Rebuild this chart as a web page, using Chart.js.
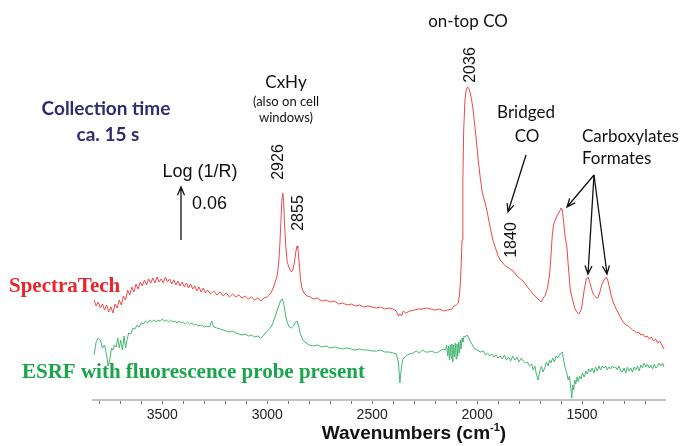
<!DOCTYPE html>
<html>
<head>
<meta charset="utf-8">
<script src="https://cdn.jsdelivr.net/npm/chart.js@4.4.1/dist/chart.umd.min.js"></script>
<style>
  html, body { margin: 0; padding: 0; background: #fff; }
</style>
</head>
<body>
<canvas id="spectra" width="681" height="446"></canvas>
<script>
// DRIFTS spectra - SpectraTech cell vs ESRF cell (offset, arbitrary units)

const redWn = [3825,3815,3805,3795,3785,3775,3765,3755,3745,3735,3725,3715,3705,3695,3685,3675,3665,3655,3645,3635,
  3625,3615,3605,3595,3585,3575,3565,3555,3545,3535,3525,3515,3505,3495,3485,3475,3465,3455,3445,3435,
  3425,3415,3405,3395,3385,3375,3365,3355,3345,3335,3325,3315,3305,3295,3285,3270,3255,3240,3225,3210,
  3195,3180,3165,3150,3135,3120,3105,3090,3075,3060,3045,3030,3015,3000,2990,2980,2970,2960,2952,2945,
  2940,2935,2930,2926,2922,2918,2912,2905,2895,2885,2878,2870,2864,2858,2854,2848,2842,2835,2825,2810,
  2795,2780,2760,2740,2720,2700,2680,2660,2640,2620,2600,2580,2560,2540,2520,2500,2480,2460,2440,2420,
  2400,2385,2375,2368,2360,2352,2340,2320,2300,2280,2260,2240,2220,2200,2180,2160,2140,2120,2110,2100,
  2090,2084,2080,2076,2072,2068,2064,2058,2052,2046,2040,2034,2026,2019,2010,2000,1995,1985,1975,1962,
  1952,1940,1925,1914,1900,1890,1870,1850,1829,1810,1781,1760,1745,1733,1720,1705,1695,1685,1675,1665,
  1655,1648,1642,1636,1628,1618,1608,1600,1594,1588,1580,1572,1565,1556,1545,1535,1525,1515,1505,1500,
  1490,1480,1472,1465,1455,1445,1435,1425,1415,1405,1395,1385,1378,1370,1362,1352,1340,1330,1320,1310,
  1300,1290,1280,1270,1260,1250,1240,1230,1220,1210,1200,1190,1180,1170,1160,1150,1140,1130,1120,1110];
const redVal = [100,94,98,92,96,90,95,88,93,87,96,92,100,95,104,100,110,105,113,108,
  116,111,118,114,120,115,121,117,122,117,123,118,121,117,123,118,121,116,120,115,
  119,114,118,113,117,112,116,111,114,109,113,108,112,107,110,106,109,105,108,104,
  107,103,106,103,105,102,104,101,103,100,102,99,102,103,105,108,113,119,125,138,
  155,178,200,207,200,178,155,138,132,128,130,138,148,154,152,138,122,112,107,104,
  103,101,102,99,100,98,99,96,97,95,96,94,95,93,94,93,92,93,91,92,
  91,89,84,86,84,89,87,89,90,91,91,92,91,90,91,89,90,91,94,95,
  97,105,117,135,160,220,270,300,310,313,312,308,300,290,272,252,240,222,207,197,
  188,175,160,153,144,140,135,132,129,124,119,113,109,106,103,100,98,102,105,112,
  125,145,165,175,180,185,188,192,190,178,162,152,132,110,100,92,88,86,90,95,
  110,121,123,119,111,105,103,102,108,116,120,123,120,113,105,98,92,88,84,80,
  77,75,74,72,70,69,67,68,65,66,63,64,61,63,59,61,57,59,55,51];

const greenWn = [3825,3815,3805,3795,3785,3775,3765,3758,3750,3742,3735,3728,3720,3712,3705,3698,3690,3682,3675,3668,
  3660,3650,3640,3630,3620,3610,3600,3590,3580,3570,3560,3550,3540,3530,3520,3510,3500,3490,3480,3470,
  3460,3450,3440,3430,3420,3410,3400,3390,3380,3370,3360,3350,3340,3330,3315,3300,3290,3275,3265,3255,
  3240,3225,3210,3195,3180,3165,3150,3135,3120,3105,3090,3075,3060,3045,3030,3015,3005,2995,2985,2975,
  2965,2955,2945,2935,2928,2920,2912,2905,2895,2885,2875,2865,2858,2850,2842,2830,2815,2800,2780,2760,
  2740,2720,2700,2680,2660,2640,2620,2600,2580,2560,2540,2520,2500,2480,2460,2440,2420,2400,2385,2375,
  2368,2362,2355,2345,2335,2320,2305,2290,2275,2260,2245,2230,2215,2200,2185,2170,2160,2150,2145,2140,
  2136,2132,2128,2124,2120,2116,2112,2108,2104,2100,2096,2092,2088,2084,2080,2076,2072,2068,2062,2055,
  2048,2042,2035,2025,2015,2000,1985,1970,1960,1950,1940,1930,1920,1910,1900,1890,1880,1870,1860,1850,
  1840,1830,1820,1810,1800,1790,1780,1770,1760,1750,1740,1733,1725,1718,1710,1702,1694,1686,1678,1670,
  1662,1655,1648,1640,1632,1624,1616,1608,1600,1594,1588,1580,1572,1566,1560,1554,1549,1545,1540,1535,
  1530,1524,1518,1512,1505,1498,1490,1482,1475,1468,1460,1452,1444,1436,1428,1420,1412,1404,1396,1388,
  1380,1372,1364,1356,1348,1340,1332,1324,1316,1308,1300,1292,1284,1276,1268,1260,1252,1244,1236,1228,
  1220,1212,1204,1196,1188,1180,1172,1164,1156,1148,1140,1132,1124,1116,1110];
const greenVal = [45,58,62,60,52,55,45,34,40,52,50,55,53,62,52,60,50,64,52,60,
  67,66,72,71,75,73,77,76,79,77,80,78,80,78,80,79,81,79,80,78,
  80,78,79,77,79,77,78,76,78,76,77,75,76,74,75,73,74,73,79,73,
  72,71,70,69,68,69,67,66,65,66,64,65,63,64,62,65,68,70,72,76,
  82,88,94,100,101,95,84,78,73,72,74,78,79,74,66,60,57,55,54,55,
  53,54,52,53,52,51,52,51,50,51,50,50,49,49,50,48,48,47,46,38,
  17,30,40,43,45,46,47,49,47,50,48,48,49,47,48,50,51,50,55,44,
  54,40,55,42,56,38,55,43,57,41,56,44,58,47,60,51,62,58,64,63,
  65,63,60,56,52,50,48,49,45,47,44,46,43,45,42,44,41,45,40,43,
  39,44,40,43,38,42,39,37,38,34,36,30,34,26,20,28,34,28,32,38,
  34,40,37,42,38,44,42,45,47,48,40,32,26,20,24,12,2,15,10,20,
  16,23,18,24,21,27,23,29,26,31,28,32,27,33,29,34,30,34,32,34,
  30,33,31,34,32,33,30,34,29,28,32,27,33,29,32,28,33,30,34,29,
  35,32,37,33,36,32,35,31,36,32,34,37,34,37,33];

const xTicksMajor = [3500, 3000, 2500, 2000, 1500];
const peakLabels = [2926, 2855, 2036, 1840];

const RED = '#f04848';
const GREEN = '#45b873';

function toPoints(xs, ys) {
  return xs.map((x, i) => ({ x: x, y: ys[i] }));
}

// draws a line with an open arrow head at (x2, y2)
function drawArrow(ctx, x1, y1, x2, y2) {
  const head = 9;
  const ang = Math.atan2(y2 - y1, x2 - x1);
  ctx.beginPath();
  ctx.moveTo(x1, y1);
  ctx.lineTo(x2, y2);
  ctx.moveTo(x2 - head * Math.cos(ang - 0.4), y2 - head * Math.sin(ang - 0.4));
  ctx.lineTo(x2, y2);
  ctx.lineTo(x2 - head * Math.cos(ang + 0.4), y2 - head * Math.sin(ang + 0.4));
  ctx.stroke();
}

function vText(ctx, text, x, y) {
  ctx.save();
  ctx.translate(x, y);
  ctx.rotate(-Math.PI / 2);
  ctx.fillText(text, 0, 0);
  ctx.restore();
}

const annotations = {
  id: 'annotations',
  afterDraw(chart) {
    const ctx = chart.ctx;
    const xs = chart.scales.x;
    ctx.save();
    ctx.textAlign = 'center';
    ctx.textBaseline = 'middle';

    // axis title with superscript
    ctx.fillStyle = '#111';
    const bigFont = 'bold 19px "Liberation Sans", Arial, sans-serif';
    const supFont = 'bold 11px "Liberation Sans", Arial, sans-serif';
    const main = 'Wavenumbers (cm';
    ctx.font = bigFont;
    const w1 = ctx.measureText(main).width;
    const w3 = ctx.measureText(')').width;
    ctx.font = supFont;
    const w2 = ctx.measureText('-1').width;
    const tx = 414 - (w1 + w2 + w3) / 2;
    ctx.textAlign = 'left';
    ctx.font = bigFont;
    ctx.fillText(main, tx, 434);
    ctx.font = supFont;
    ctx.fillText('-1', tx + w1, 428);
    ctx.font = bigFont;
    ctx.fillText(')', tx + w1 + w2, 434);
    ctx.textAlign = 'center';

    // collection time
    ctx.fillStyle = '#2e2c6e';
    ctx.font = 'bold 19px Lato, "Open Sans", sans-serif';
    ctx.fillText('Collection time', 106, 109);
    ctx.fillText('ca. 15 s', 108, 135);

    // scale bar
    ctx.fillStyle = '#111';
    ctx.strokeStyle = '#111';
    ctx.lineWidth = 1.3;
    ctx.font = '18px "Liberation Sans", Arial, sans-serif';
    ctx.fillText('Log (1/R)', 200, 172);
    ctx.textAlign = 'left';
    ctx.fillText('0.06', 192, 204);
    ctx.textAlign = 'center';
    drawArrow(ctx, 181, 240, 181, 187);

    // band assignments
    ctx.font = '17px Lato, "Open Sans", sans-serif';
    ctx.fillText('CxHy', 286, 83);
    ctx.fillText('on-top CO', 468, 22);
    ctx.fillText('Bridged', 526, 113);
    ctx.fillText('CO', 527, 137);
    ctx.textAlign = 'left';
    ctx.fillText('Carboxylates', 582, 137);
    ctx.fillText('Formates', 582, 159);
    ctx.textAlign = 'center';
    ctx.font = '13px Lato, "Open Sans", sans-serif';
    ctx.fillText('(also on cell', 286, 102);
    ctx.fillText('windows)', 286, 118);

    // peak positions
    ctx.font = '16px "Liberation Sans", Arial, sans-serif';
    const peakY = { 2926: 162, 2855: 213, 2036: 65, 1840: 240 };
    const peakDx = { 2926: -4, 2855: 1, 2036: 1, 1840: 1 };
    peakLabels.forEach(p => {
      vText(ctx, String(p), xs.getPixelForValue(p) + peakDx[p], peakY[p]);
    });

    drawArrow(ctx, 526, 155, 508, 212);
    drawArrow(ctx, 594, 175, 567, 207);
    drawArrow(ctx, 594, 175, 588, 274);
    drawArrow(ctx, 594, 175, 607, 274);

    // series labels
    ctx.textAlign = 'left';
    ctx.font = 'bold 21px "Liberation Serif", "Times New Roman", serif';
    ctx.fillStyle = '#e8262b';
    ctx.fillText('SpectraTech', 9, 287);
    ctx.fillStyle = '#1aa54b';
    ctx.fillText('ESRF with fluorescence probe present', 22, 373);
    ctx.restore();
  }
};

const chart = new Chart(document.getElementById('spectra'), {
  type: 'line',
  data: {
    datasets: [
      {
        label: 'SpectraTech',
        data: toPoints(redWn, redVal),
        borderColor: RED,
        borderWidth: 1,
        pointRadius: 0,
        fill: false,
        tension: 0
      },
      {
        label: 'ESRF with fluorescence probe present',
        data: toPoints(greenWn, greenVal),
        borderColor: GREEN,
        borderWidth: 1,
        pointRadius: 0,
        fill: false,
        tension: 0
      }
    ]
  },
  options: {
    responsive: false,
    animation: false,
    layout: { padding: { left: 93, right: 16, top: 70, bottom: 0 } },
    plugins: {
      legend: { display: false },
      tooltip: { enabled: false }
    },
    scales: {
      x: {
        type: 'linear',
        reverse: true,
        min: 1105,
        max: 3830,
        border: { display: true, color: '#c4c4c4', width: 2 },
        grid: { display: true, drawOnChartArea: false, color: '#777', tickLength: 4 },
        ticks: {
          stepSize: 100,
          includeBounds: false,
          autoSkip: false,
          maxRotation: 0,
          padding: 3,
          color: '#222',
          font: { family: '"Liberation Sans", Arial, sans-serif', size: 14 },
          callback: value => xTicksMajor.includes(value) ? String(value) : ''
        },
        afterFit: scale => { scale.height = 46; }
      },
      y: {
        display: false,
        min: 0,
        max: 330
      }
    }
  },
  plugins: [annotations]
});
</script>
</body>
</html>
